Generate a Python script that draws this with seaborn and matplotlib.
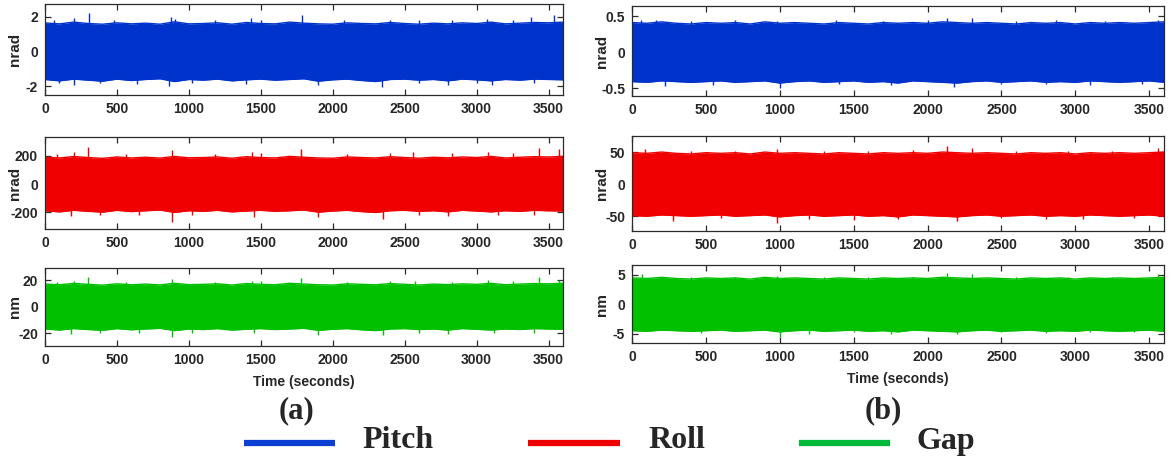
import numpy as np
import matplotlib
matplotlib.use("Agg")
import matplotlib.pyplot as plt
from matplotlib.lines import Line2D
import seaborn as sns

# ---------------- data ----------------
t_env = [0, 100, 200, 300, 400, 500, 600, 700, 800, 900, 1000, 1100, 1200,
         1300, 1400, 1500, 1600, 1700, 1800, 1900, 2000, 2100, 2200, 2300,
         2400, 2500, 2600, 2700, 2800, 2900, 3000, 3100, 3200, 3300, 3400,
         3500, 3600]

# (a) column -- band envelopes
pitch_a_up = [1.65, 1.60, 1.70, 1.62, 1.58, 1.66, 1.60, 1.64, 1.58, 1.72, 1.60, 1.62, 1.66,
              1.58, 1.68, 1.62, 1.60, 1.70, 1.64, 1.60, 1.58, 1.66, 1.62, 1.60, 1.68,
              1.62, 1.58, 1.64, 1.60, 1.66, 1.62, 1.70, 1.60, 1.64, 1.68, 1.66, 1.70]
pitch_a_lo = [-1.62, -1.70, -1.60, -1.66, -1.72, -1.60, -1.68, -1.62, -1.58, -1.74, -1.62, -1.66, -1.60,
              -1.70, -1.64, -1.60, -1.66, -1.62, -1.58, -1.72, -1.64, -1.60, -1.68, -1.74, -1.62,
              -1.60, -1.66, -1.62, -1.70, -1.60, -1.64, -1.70, -1.62, -1.66, -1.60, -1.62, -1.64]
pitch_a_spk_t = [60, 200, 304, 480, 876, 900, 1180, 1434, 1500, 1785, 2080, 2400,
                 2600, 2830, 3071, 3250, 3378, 3540,
                 100, 200, 380, 640, 863, 1020, 1400, 1900, 2343, 2600, 2800, 3000, 3110, 3400]
pitch_a_spk_v = [1.85, 1.95, 2.20, 1.80, 2.00, 1.90, 1.80, 1.95, 1.85, 2.10, 1.80, 1.85,
                 1.80, 1.85, 1.90, 1.85, 2.00, 2.10,
                 -1.85, -1.95, -1.85, -1.90, -2.00, -1.85, -1.90, -1.95, -2.05, -1.85, -1.95, -1.85, -1.95, -1.85]

roll_a_up = [190, 185, 195, 188, 182, 192, 185, 190, 184, 196, 186, 188, 192,
             183, 194, 188, 185, 196, 190, 185, 183, 192, 188, 185, 194,
             188, 183, 190, 186, 192, 188, 196, 185, 190, 194, 192, 196]
roll_a_lo = [-188, -196, -185, -192, -198, -185, -194, -188, -183, -200, -188, -192, -185,
             -196, -190, -185, -192, -188, -183, -198, -190, -185, -194, -200, -188,
             -185, -192, -188, -196, -185, -190, -196, -188, -192, -185, -188, -190]
roll_a_spk_t = [80, 200, 300, 560, 880, 1180, 1440, 1500, 1780, 2100, 2400, 2560,
                2830, 3080, 3250, 3430, 3570,
                180, 380, 650, 880, 1020, 1450, 1900, 2350, 2600, 2800, 3150, 3400]
roll_a_spk_v = [215, 230, 265, 215, 240, 215, 225, 220, 245, 215, 220, 225,
                220, 230, 220, 255, 250,
                -225, -215, -220, -265, -215, -230, -235, -245, -215, -225, -220, -215]

gap_a_up = [17.0, 16.5, 17.5, 16.8, 16.2, 17.2, 16.5, 17.0, 16.4, 17.6, 16.6, 16.8, 17.2,
            16.3, 17.4, 16.8, 16.5, 17.6, 17.0, 16.5, 16.3, 17.2, 16.8, 16.5, 17.4,
            16.8, 16.3, 17.0, 16.6, 17.2, 16.8, 17.6, 16.5, 17.0, 17.4, 17.2, 17.6]
gap_a_lo = [-16.8, -17.6, -16.5, -17.2, -17.8, -16.5, -17.4, -16.8, -16.3, -18.0, -16.8, -17.2, -16.5,
            -17.6, -17.0, -16.5, -17.2, -16.8, -16.3, -17.8, -17.0, -16.5, -17.4, -18.0, -16.8,
            -16.5, -17.2, -16.8, -17.6, -16.5, -17.0, -17.6, -16.8, -17.2, -16.5, -16.8, -17.0]
gap_a_spk_t = [80, 200, 300, 560, 880, 1180, 1440, 1500, 1780, 2100, 2400, 2570,
               2830, 3080, 3250, 3430, 3570,
               180, 380, 650, 880, 1020, 1450, 1900, 2350, 2600, 2800, 3120, 3400]
gap_a_spk_v = [18.5, 19.5, 22.5, 18.5, 20.5, 18.5, 19.5, 19.0, 21.5, 18.5, 19.0, 19.0,
               18.5, 20.0, 19.0, 22.0, 20.0,
               -20.5, -19.5, -19.5, -23.0, -19.5, -20.0, -21.5, -21.5, -19.5, -20.5, -20.0, -19.5]

# (b) column -- band envelopes
pitch_b_up = [0.41, 0.40, 0.42, 0.40, 0.39, 0.41, 0.40, 0.41, 0.39, 0.42, 0.40, 0.41, 0.40,
              0.39, 0.41, 0.40, 0.39, 0.41, 0.40, 0.41, 0.40, 0.42, 0.41, 0.40, 0.41,
              0.40, 0.39, 0.41, 0.40, 0.41, 0.39, 0.41, 0.40, 0.41, 0.40, 0.41, 0.42]
pitch_b_lo = [-0.41, -0.42, -0.40, -0.41, -0.42, -0.41, -0.40, -0.42, -0.41, -0.40, -0.43, -0.41, -0.40,
              -0.42, -0.41, -0.40, -0.42, -0.41, -0.43, -0.40, -0.41, -0.42, -0.43, -0.41, -0.40,
              -0.42, -0.41, -0.40, -0.42, -0.41, -0.42, -0.40, -0.41, -0.42, -0.41, -0.40, -0.42]
pitch_b_spk_t = [60, 160, 400, 700, 980, 1380, 1700, 2000, 2130, 2300, 2600, 2870, 3200, 3560,
                 220, 550, 1000, 1400, 1750, 2180, 2500, 2800, 3100, 3450]
pitch_b_spk_v = [0.44, 0.45, 0.43, 0.44, 0.43, 0.45, 0.43, 0.44, 0.48, 0.47, 0.43, 0.45, 0.43, 0.45,
                 -0.47, -0.46, -0.50, -0.44, -0.46, -0.48, -0.44, -0.45, -0.46, -0.44]

roll_b_up = [49, 48, 50, 48, 47, 49, 48, 49, 47, 50, 48, 49, 48,
             47, 49, 48, 47, 49, 48, 49, 48, 50, 49, 48, 49,
             48, 47, 49, 48, 49, 47, 49, 48, 49, 48, 49, 50]
roll_b_lo = [-49, -50, -48, -49, -50, -49, -48, -50, -49, -48, -51, -49, -48,
             -50, -49, -48, -50, -49, -51, -48, -49, -50, -51, -49, -48,
             -50, -49, -48, -50, -49, -50, -48, -49, -50, -49, -48, -50]
roll_b_spk_t = [90, 400, 700, 980, 1300, 1600, 1900, 2130, 2300, 2600, 2950, 3250, 3560,
                280, 600, 980, 1200, 1500, 1800, 2200, 2500, 2800, 3050, 3400]
roll_b_spk_v = [55, 52, 52, 54, 52, 52, 53, 59, 57, 52, 52, 52, 56,
                -57, -53, -61, -54, -56, -54, -58, -53, -54, -55, -53]

gap_b_up = [4.5, 4.4, 4.6, 4.4, 4.3, 4.5, 4.4, 4.5, 4.3, 4.6, 4.4, 4.5, 4.4,
            4.3, 4.5, 4.4, 4.3, 4.5, 4.4, 4.5, 4.4, 4.6, 4.5, 4.4, 4.5,
            4.4, 4.3, 4.5, 4.4, 4.5, 4.3, 4.5, 4.4, 4.5, 4.4, 4.5, 4.6]
gap_b_lo = [-4.5, -4.6, -4.4, -4.5, -4.6, -4.5, -4.4, -4.6, -4.5, -4.4, -4.7, -4.5, -4.4,
            -4.6, -4.5, -4.4, -4.6, -4.5, -4.7, -4.4, -4.5, -4.6, -4.7, -4.5, -4.4,
            -4.6, -4.5, -4.4, -4.6, -4.5, -4.6, -4.4, -4.5, -4.6, -4.5, -4.4, -4.6]
gap_b_spk_t = [70, 400, 700, 980, 1300, 1600, 1900, 2130, 2300, 2600, 2950, 3250, 3560,
               470, 1000, 1200, 1500, 1750, 2200, 2500, 2800, 3100, 3400]
gap_b_spk_v = [5.1, 4.7, 4.7, 4.8, 4.7, 4.7, 4.7, 5.4, 5.1, 4.7, 4.7, 4.7, 5.1,
               -4.9, -5.5, -5.0, -4.8, -5.0, -5.1, -4.8, -4.9, -4.8, -4.8]

x_ticks = [0, 500, 1000, 1500, 2000, 2500, 3000, 3500]
y_ticks = {
    "pa": [-2, 0, 2], "ra": [-200, 0, 200], "ga": [-20, 0, 20],
    "pb": [-0.5, 0, 0.5], "rb": [-50, 0, 50], "gb": [-5, 0, 5],
}
y_labels = {"pa": "nrad", "ra": "nrad", "ga": "nm", "pb": "nrad", "rb": "nrad", "gb": "nm"}
legend_labels = ["Pitch", "Roll", "Gap"]
panel_labels = ["(a)", "(b)"]
x_label = "Time (seconds)"

# ---------------- style ----------------
sns.set_style("ticks")
plt.rcParams["font.family"] = ["Liberation Sans", "DejaVu Sans"]
plt.rcParams["font.weight"] = "bold"

BLUE = "#0033CC"
RED = "#F00000"
GREEN = "#00C000"
FRAME = "#2b2b2b"
TXT = "#262626"

W, H = 1172, 466
fig = plt.figure(figsize=(W / 100, H / 100), dpi=100)


def px_axes(x0, y0, x1, y1):
    return fig.add_axes([x0 / W, 1 - y1 / H, (x1 - x0) / W, (y1 - y0) / H])


panels = [
    ("pa", (45, 4, 563, 95), pitch_a_up, pitch_a_lo, pitch_a_spk_t, pitch_a_spk_v, BLUE, (-2.52, 2.75), False),
    ("ra", (45, 137, 563, 229), roll_a_up, roll_a_lo, roll_a_spk_t, roll_a_spk_v, RED, (-317, 333), False),
    ("ga", (45, 268, 563, 346), gap_a_up, gap_a_lo, gap_a_spk_t, gap_a_spk_v, GREEN, (-29.6, 29.1), True),
    ("pb", (632, 6, 1164, 96), pitch_b_up, pitch_b_lo, pitch_b_spk_t, pitch_b_spk_v, BLUE, (-0.61, 0.64), False),
    ("rb", (632, 136, 1164, 231), roll_b_up, roll_b_lo, roll_b_spk_t, roll_b_spk_v, RED, (-73, 75), False),
    ("gb", (632, 265, 1164, 343), gap_b_up, gap_b_lo, gap_b_spk_t, gap_b_spk_v, GREEN, (-6.6, 6.7), True),
]

for key, box, up, lo, st, sv, col, ylim, has_xlabel in panels:
    ax = px_axes(*box)
    ax.fill_between(t_env, lo, up, color=col, linewidth=0)
    sns.lineplot(x=t_env, y=up, ax=ax, color=col, linewidth=1.0)
    sns.lineplot(x=t_env, y=lo, ax=ax, color=col, linewidth=1.0)
    ax.vlines(np.asarray(st, dtype=float), 0, np.asarray(sv, dtype=float),
              color=col, linewidth=1.0)
    ax.set_xlim(0, 3600)
    ax.set_ylim(*ylim)
    ax.set_xticks(x_ticks)
    ax.set_xticklabels([str(v) for v in x_ticks])
    yt = y_ticks[key]
    ax.set_yticks(yt)
    ax.set_yticklabels([("%g" % v) for v in yt])
    ax.tick_params(direction="in", top=True, right=True, length=4, width=0.9,
                   color=FRAME, labelsize=10, labelcolor=TXT, pad=5)
    for sp in ax.spines.values():
        sp.set_visible(True)
        sp.set_color(FRAME)
        sp.set_linewidth(0.9)
    ax.set_ylabel(y_labels[key], fontsize=11, fontweight="bold", color=TXT)
    ax.yaxis.set_label_coords(-23 / (box[2] - box[0]), 0.5)
    if has_xlabel:
        ax.set_xlabel(x_label, fontsize=10, fontweight="bold", color=TXT, labelpad=6)
    else:
        ax.set_xlabel("")
    for lab in ax.get_xticklabels() + ax.get_yticklabels():
        lab.set_fontweight("bold")

# panel labels
serif = ["Liberation Serif", "DejaVu Serif"]
fig.text(297 / W, 1 - 411 / H, panel_labels[0], ha="center", va="center",
         fontsize=22, fontweight="bold", family=serif)
fig.text(883 / W, 1 - 411 / H, panel_labels[1], ha="center", va="center",
         fontsize=22, fontweight="bold", family=serif)

# legend
leg_colors = ["#0a3fd2", "#ee0000", "#00b83a"]
leg_x = [(244, 335, 362), (528, 620, 648), (799, 890, 917)]
ly = 1 - 443 / H
for (x0, x1, xt), c, lab in zip(leg_x, leg_colors, legend_labels):
    fig.add_artist(Line2D([x0 / W, x1 / W], [ly, ly], color=c, linewidth=4.5,
                          solid_capstyle="butt", transform=fig.transFigure))
    fig.text(xt / W, 1 - 441 / H, lab, ha="left", va="center",
             fontsize=23, fontweight="bold", family=serif)

fig.savefig("out.png", dpi=100)
